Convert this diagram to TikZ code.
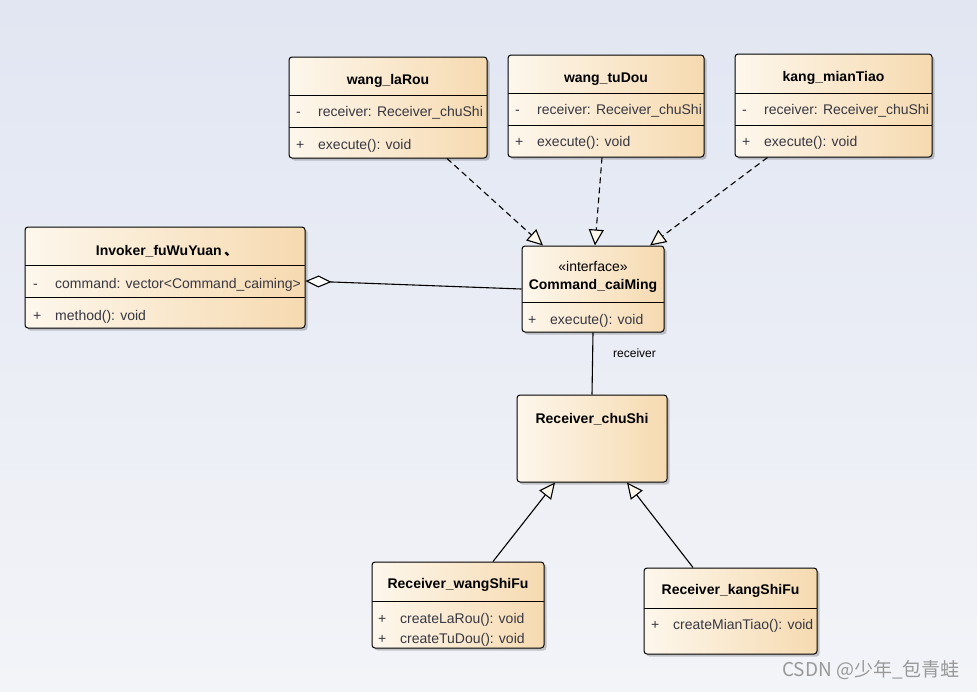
\documentclass[tikz,border=0pt]{standalone}
\usepackage{fontspec}
\setmainfont{Liberation Sans}
\newfontfamily\cjk{Noto Sans CJK SC}
\usetikzlibrary{arrows.meta, shadows}
\definecolor{boxlight}{RGB}{253,247,236}
\definecolor{boxdark}{RGB}{246,218,176}
\definecolor{bgtop}{RGB}{225,230,242}
\definecolor{bgbottom}{RGB}{243,244,248}
\definecolor{txtgray}{RGB}{55,55,65}
\newcommand{\umlrow}[2]{\makebox[22pt][l]{#1}#2}

\begin{document}
\begin{tikzpicture}[x=1pt, y=-1pt,
  umlbox/.style={draw=black, line width=1pt, rounded corners=3pt, left color=boxlight, right color=boxdark,
    drop shadow={shadow xshift=2.5pt, shadow yshift=-2.5pt, opacity=0.2, fill=black}, inner sep=0pt},
  ctitle/.style={inner sep=0pt, font=\fontsize{14}{16}\selectfont\bfseries},
  member/.style={anchor=base west, inner sep=0pt, text=txtgray, font=\fontsize{14}{16}\selectfont},
  sep/.style={line width=1pt},
  realize/.style={line width=1.1pt, dash pattern=on 6pt off 4pt, -{Triangle[length=16pt, width=15pt, fill=boxlight]}},
  aggregate/.style={line width=1.1pt, {Diamond[length=26pt, width=12pt, fill=white]}-},
  inherit/.style={line width=1.1pt, -{Triangle[length=16pt, width=15pt, fill=boxlight]}},
  assoc/.style={line width=1.1pt}]
  \fill[top color=bgtop, bottom color=bgbottom] (0,0) rectangle (977,691);
  \useasboundingbox (0,0) rectangle (977,691);

  % Nodes
  \node[umlbox, minimum width=198pt, minimum height=101pt] (laRou) at (388,107.5) {};
  \node[umlbox, minimum width=196pt, minimum height=102pt] (tuDou) at (606,106) {};
  \node[umlbox, minimum width=197pt, minimum height=103pt] (mianTiao) at (833.5,105.5) {};
  \node[umlbox, minimum width=280pt, minimum height=101pt] (invoker) at (165,277.5) {};
  \node[umlbox, minimum width=142pt, minimum height=86pt] (cmd) at (593,289) {};
  \node[umlbox, minimum width=150pt, minimum height=87pt] (chuShi) at (592,438.5) {};
  \node[umlbox, minimum width=172pt, minimum height=86pt] (wangShiFu) at (458,605) {};
  \node[umlbox, minimum width=173pt, minimum height=86pt] (kangShiFu) at (730.5,611) {};

  % Compartments
  \draw[sep] (289,95) -- (487,95) (289,127) -- (487,127);
  \draw[sep] (508,93) -- (704,93) (508,125) -- (704,125);
  \draw[sep] (735,93) -- (932,93) (735,125) -- (932,125);
  \draw[sep] (25,265) -- (305,265) (25,297) -- (305,297);
  \draw[sep] (522,302) -- (664,302);
  \draw[sep] (372,601) -- (544,601);
  \draw[sep] (644,608) -- (817,608);

  % Texts
  \node[ctitle] (laRouT) at (388,81) {wang\_laRou};
  \node[member] (laRouA) at (296,116) {\umlrow{-}{receiver: Receiver\_chuShi}};
  \node[member] (laRouM) at (296,149) {\umlrow{+}{execute(): void}};
  \node[ctitle] (tuDouT) at (606,79) {wang\_tuDou};
  \node[member] (tuDouA) at (515,114) {\umlrow{-}{receiver: Receiver\_chuShi}};
  \node[member] (tuDouM) at (515,146) {\umlrow{+}{execute(): void}};
  \node[ctitle] (mianTiaoT) at (833.5,78) {kang\_mianTiao};
  \node[member] (mianTiaoA) at (742,114) {\umlrow{-}{receiver: Receiver\_chuShi}};
  \node[member] (mianTiaoM) at (742,146) {\umlrow{+}{execute(): void}};
  \node[ctitle] (invokerT) at (167,251) {Invoker\_fuWuYuan\,{\cjk 、}};
  \node[member] (invokerA) at (33,288) {\umlrow{-}{command: vector<Command\_caiming>}};
  \node[member] (invokerM) at (33,320) {\umlrow{+}{method(): void}};
  \node[inner sep=0pt, text=black, font=\fontsize{14}{16}\selectfont] (cmdS) at (593,266) {«interface»};
  \node[ctitle] (cmdT) at (593,286) {Command\_caiMing};
  \node[member] (cmdM) at (528,324) {\umlrow{+}{execute(): void}};
  \node[ctitle] (chuShiT) at (592,419) {Receiver\_chuShi};
  \node[ctitle] (wangShiFuT) at (458,585) {Receiver\_wangShiFu};
  \node[member] (wangShiFuM1) at (378,623) {\umlrow{+}{createLaRou(): void}};
  \node[member] (wangShiFuM2) at (378,643) {\umlrow{+}{createTuDou(): void}};
  \node[ctitle] (kangShiFuT) at (730.5,591) {Receiver\_kangShiFu};
  \node[member] (kangShiFuM) at (651,629) {\umlrow{+}{createMianTiao(): void}};
  \node[inner sep=0pt, text=black!40, font=\fontsize{19}{21}\selectfont\cjk] (mark) at (871,670) {CSDN @少年\_包青蛙};

  % Arrows
  \draw[realize] ([xshift=59pt]laRou.south) -- ([xshift=-50pt]cmd.north);
  \draw[realize] ([xshift=-4pt]tuDou.south) -- ([xshift=2pt]cmd.north);
  \draw[realize] ([xshift=-66pt]mianTiao.south) -- ([xshift=57pt]cmd.north);
  \draw[aggregate] ([yshift=-3.5pt]invoker.east) -- (cmd.west);
  \draw[assoc] (cmd.south) -- (chuShi.north)
    node[pos=0.33, anchor=west, xshift=20pt, inner sep=0pt, font=\fontsize{12}{14}\selectfont] (rcvLabel) {receiver};
  \draw[inherit] ([xshift=35pt]wangShiFu.north) -- ([xshift=-37pt]chuShi.south);
  \draw[inherit] ([xshift=-37.5pt]kangShiFu.north) -- ([xshift=35pt]chuShi.south);
\end{tikzpicture}
\end{document}
